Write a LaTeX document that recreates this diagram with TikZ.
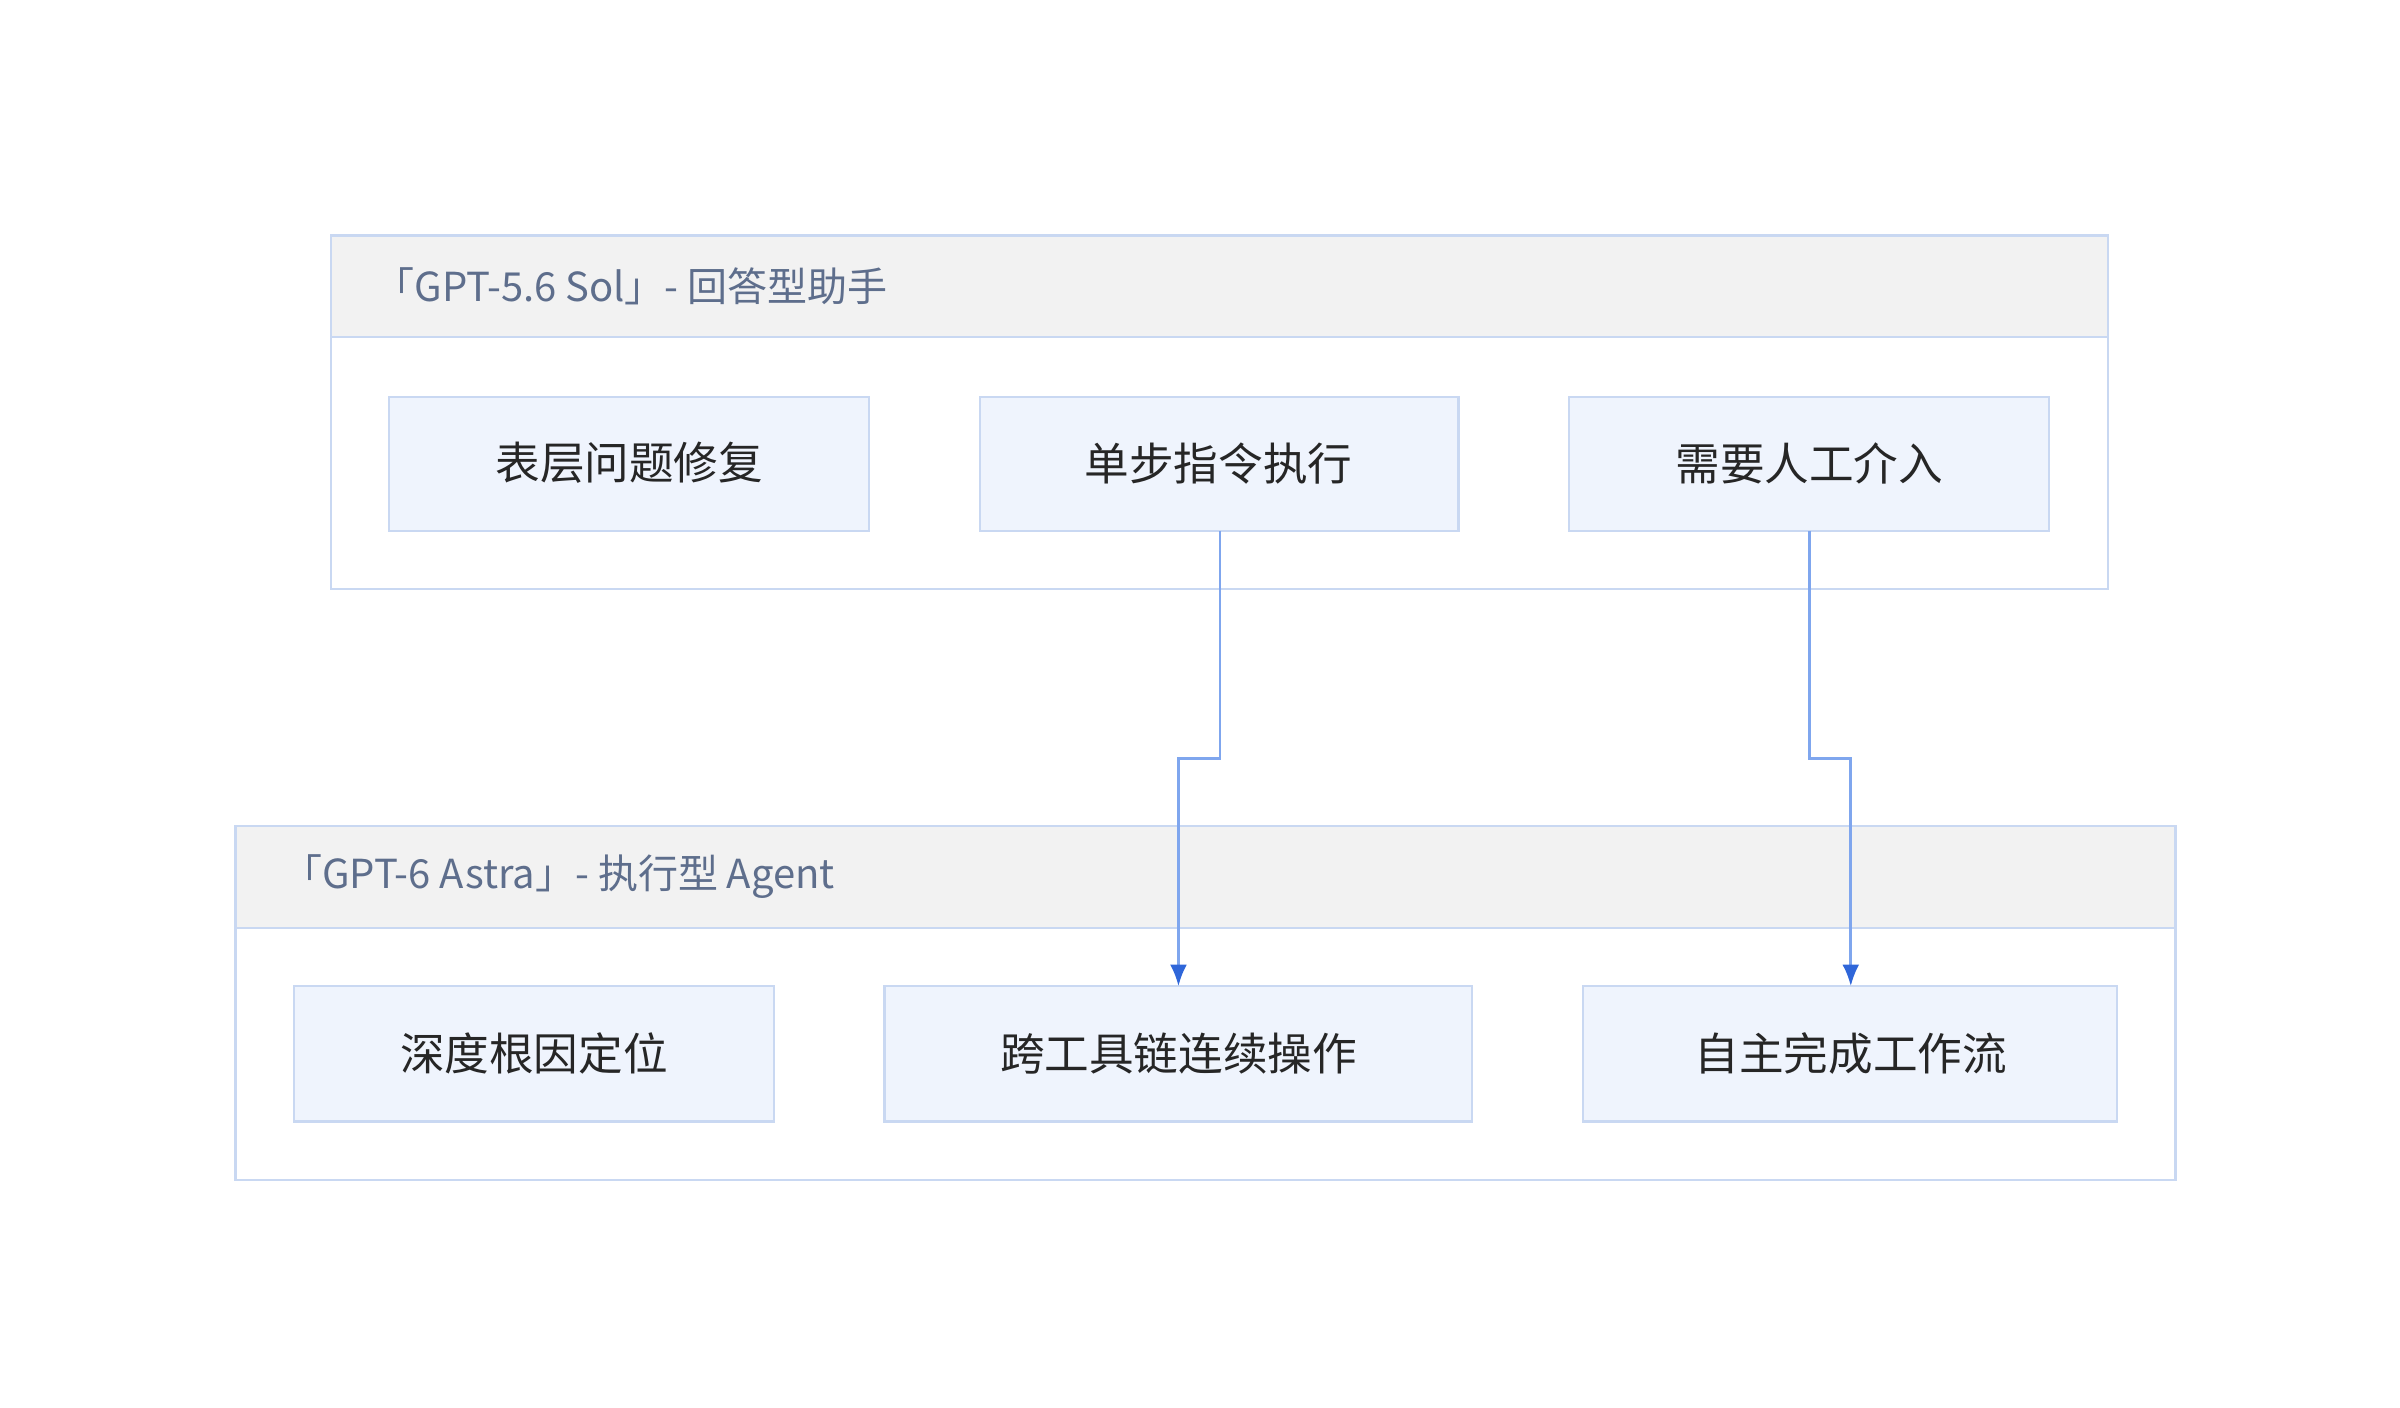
\documentclass[tikz,border=0pt]{standalone}
\usepackage{fontspec}
\setmainfont{Noto Sans CJK SC}
\usetikzlibrary{arrows.meta}
\definecolor{bd}{HTML}{C9D8F2}
\definecolor{hd}{HTML}{F2F2F2}
\definecolor{bx}{HTML}{EFF4FD}
\definecolor{ttl}{HTML}{5E6E8C}
\definecolor{ar}{HTML}{7FA6EE}
\definecolor{ah}{HTML}{2F66D9}
\begin{document}
\begin{tikzpicture}[x=1pt,y=-1pt,
 grp/.style={draw=bd,line width=1.5pt},
 hdr/.style={draw=bd,fill=hd,line width=1.5pt},
 box/.style={draw=bd,fill=bx,line width=1.5pt},
 lbl/.style={font=\fontsize{29}{32}\selectfont,text=black!85},
 tt/.style={font=\fontsize{26}{30}\selectfont,text=ttl,anchor=west},
 con/.style={draw=ar,line width=1.8pt,-{Latex[length=14pt,width=11pt,color=ah]}}]
\useasboundingbox (0,0) rectangle (1560,915);
\draw[grp] (215,153) rectangle (1370,383);
\draw[hdr] (215,153) rectangle (1370,219);
\node[tt] (t1) at (240,186) {「GPT-5.6 Sol」- 回答型助手};
\draw[box] (253,258) rectangle (565,345); \node[lbl] (a1) at (409,301) {表层问题修复};
\draw[box] (637,258) rectangle (948,345); \node[lbl] (a2) at (792,301) {单步指令执行};
\draw[box] (1020,258) rectangle (1332,345); \node[lbl] (a3) at (1176,301) {需要人工介入};
\coordinate (a2b) at (793,345); \coordinate (a3b) at (1176,345);
\draw[grp] (153,537) rectangle (1414,767);
\draw[hdr] (153,537) rectangle (1414,603);
\node[tt] (t2) at (180,570) {「GPT-6 Astra」- 执行型 Agent};
\draw[box] (191,641) rectangle (503,729); \node[lbl] (b1) at (347,685) {深度根因定位};
\draw[box] (575,641) rectangle (957,729); \node[lbl] (b2) at (766,685) {跨工具链连续操作};
\draw[box] (1029,641) rectangle (1376,729); \node[lbl] (b3) at (1203,685) {自主完成工作流};
\coordinate (b2t) at (766,641); \coordinate (b3t) at (1203,641);
\draw[con] (a2b) -- (793,493) -- (766,493) -- (b2t);
\draw[con] (a3b) -- (1176,493) -- (1203,493) -- (b3t);
\end{tikzpicture}
\end{document}
